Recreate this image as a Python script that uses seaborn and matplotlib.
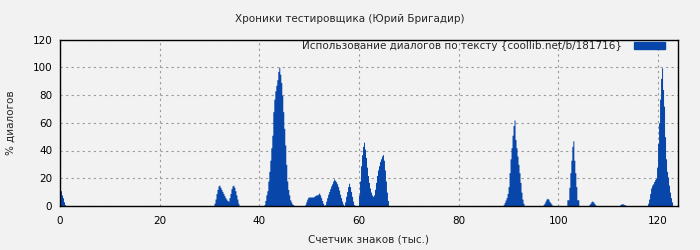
import numpy as np
import pandas as pd
import matplotlib
matplotlib.use("Agg")
import matplotlib.pyplot as plt
import seaborn as sns
from matplotlib.patches import Patch

# ---- data: dialogue share (%) sampled every 0.2 thousand characters ----
STEP = 0.2
cluster_starts = [0.0, 31.0, 41.0, 49.2, 53.2, 60.0, 89.0, 97.0, 101.8, 106.2, 112.4, 118.0]
cluster_values = [
    [13, 11, 8, 6, 3, 1],
    [2, 5, 9, 12, 14.5, 15, 13.5, 12, 10.5, 9, 7.5, 6, 5, 4, 3.5, 6, 9, 12.5, 14.5, 15, 13.5, 11, 8, 5, 2],
    [1, 4, 8, 11, 18, 25, 33, 42, 51, 68, 77, 83, 87, 91, 97, 100, 95, 89, 80, 68, 56, 44, 30, 18, 12, 8, 4.5, 3, 1.5, 1],
    [1, 3, 5, 6.3, 6.5, 6.5, 6.5, 6.5, 6.5, 7, 7.5, 8, 8, 8.5, 9.4, 8, 6, 4, 2, 0.5],
    [1, 3.5, 6, 8.5, 10.5, 12.5, 14.5, 16, 18, 19.5, 18.5, 17.5, 16, 14, 11.5, 8.5, 6, 3.5, 1.5, 0,
     3, 7, 10.5, 14, 16.4, 14, 10.5, 7, 3.5, 1],
    [8, 18, 29, 37, 43, 46, 41, 35, 28, 22, 17, 13, 10, 8, 7, 8, 12, 17, 22, 26, 29, 32, 34, 36, 37, 33, 26, 18, 10, 4],
    [1, 2.5, 4.3, 6, 9, 14, 24, 34, 42, 51, 58, 62, 48, 42, 36, 30, 24, 17, 10, 5, 2],
    [1, 2, 3.5, 5, 5.5, 5, 3.5, 2.5, 1.5, 0.5],
    [4.5, 4.5, 13.5, 24, 33, 43, 47, 33, 24, 14, 4.5, 4.5],
    [1, 2, 3, 3.6, 3, 2, 1],
    [1, 1.5, 1.5, 1.5, 1, 0.8],
    [2, 5, 9, 13, 15, 16, 17.6, 19, 20, 28, 45, 60, 77, 92, 99.6, 84, 72, 50, 34, 25, 21, 15, 10, 6, 3],
]

title = "Хроники тестировщика (Юрий Бригадир)"
x_label = "Счетчик знаков (тыс.)"
y_label = "% диалогов"
legend_label = "Использование диалогов по тексту {coollib.net/b/181716}"
x_ticks = [0, 20, 40, 60, 80, 100, 120]
y_ticks = [0, 20, 40, 60, 80, 100, 120]

xs, ys = [], []
for s, vals in zip(cluster_starts, cluster_values):
    for i, v in enumerate(vals):
        xs.append(round(s + STEP * i, 2))
        ys.append(v)
df = pd.DataFrame({"chars": xs, "pct": ys})

BLUE = "#0846AA"
BG = "#F2F2F2"
FS = 7.5

sns.set_style("white")
plt.rcParams["font.family"] = ["DejaVu Sans"]

fig = plt.figure(figsize=(7, 2.5), dpi=100, facecolor=BG)
ax = fig.add_axes([60 / 700, 1 - 206 / 250, (678 - 60) / 700, (206 - 39.5) / 250])
ax.set_facecolor(BG)

sns.histplot(data=df, x="chars", weights="pct", binwidth=STEP,
             binrange=(-STEP / 2, 124 + STEP / 2), element="step",
             fill=True, color=BLUE, alpha=1, linewidth=0, ax=ax)

ax.set_xlim(0, 124)
ax.set_ylim(0, 120)
ax.set_xticks(x_ticks)
ax.set_yticks(y_ticks)
ax.tick_params(axis="both", labelsize=FS, direction="out", length=3, width=0.8,
               colors="black")
ax.tick_params(axis="x", pad=4.5)
ax.tick_params(axis="y", pad=2.5)
for sp in ax.spines.values():
    sp.set_visible(True)
    sp.set_color("black")
    sp.set_linewidth(1)
ax.grid(True, color="#999999", linestyle=(0, (2, 3)), linewidth=0.8)
ax.set_axisbelow(True)

ax.set_xlabel(x_label, fontsize=FS, labelpad=6)
ax.set_ylabel(y_label, fontsize=FS, labelpad=12)
fig.text(0.5, 1 - 19 / 250, title, ha="center", va="center", fontsize=FS)

handle = Patch(facecolor=BLUE, edgecolor=BLUE)
ax.legend([handle], [legend_label], loc="upper right",
          bbox_to_anchor=((665 - 60) / 618, (206 - 41) / 166.5),
          markerfirst=False, frameon=False, fontsize=FS,
          handlelength=2.98, handleheight=0.67, borderpad=0,
          borderaxespad=0, handletextpad=1.15)

fig.savefig("out.png", dpi=100, facecolor=BG)
